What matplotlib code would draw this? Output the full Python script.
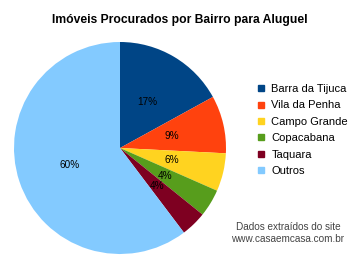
import numpy as np
import matplotlib
matplotlib.use('Agg')
import matplotlib.pyplot as plt
from matplotlib.lines import Line2D

# Data
bairros = ['Barra da Tijuca', 'Vila da Penha', 'Campo Grande',
           'Copacabana', 'Taquara', 'Outros']
percent = [17.0, 8.8, 5.8, 4.2, 3.9, 60.3]
cores = ['#004586', '#ff420e', '#ffd320', '#579d1c', '#7e0021', '#83caff']

plt.rcParams['font.family'] = ['Liberation Sans', 'DejaVu Sans']

W, H = 360, 260
fig = plt.figure(figsize=(W/100, H/100), dpi=100)

# Pie axes (center ~ (120,148) px, radius ~106 px)
cx, cy, r = 120, 148, 106
ax = fig.add_axes([(cx-r)/W, (H-cy-r)/H, 2*r/W, 2*r/H])
ax.pie(percent, colors=cores, startangle=90, counterclock=False,
       autopct='%.0f%%', pctdistance=0.5, radius=1,
       textprops={'fontsize': 7.2, 'color': 'black'},
       wedgeprops={'linewidth': 0})
ax.set_xlim(-1, 1)
ax.set_ylim(-1, 1)
ax.set_aspect('equal')
ax.axis('off')

fig.text(0.5, 1-20/H, 'Imóveis Procurados por Bairro para Aluguel',
         ha='center', va='center', fontsize=8.7, fontweight='bold')

# Legend
handles = [Line2D([], [], marker='s', color='none', markerfacecolor=c,
                  markeredgecolor=c, markersize=5) for c in cores]
fig.legend(handles, bairros, loc='upper left',
           bbox_to_anchor=(257/W, 1-84/H), frameon=False,
           fontsize=8, handlelength=0.8, handletextpad=0.5,
           labelspacing=0.58, borderpad=0, borderaxespad=0)

fig.text(288/W, 1-227/H, 'Dados extraídos do site', ha='center',
         va='center', fontsize=7.2, color='#444444')
fig.text(288/W, 1-239/H, 'www.casaemcasa.com.br', ha='center',
         va='center', fontsize=7.2, color='#444444')

plt.savefig('out.png', dpi=100)
